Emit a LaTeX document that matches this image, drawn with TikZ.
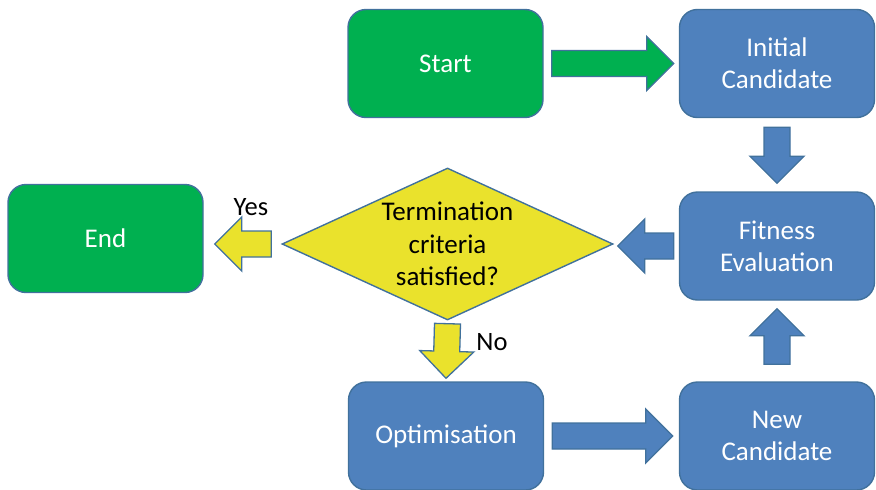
\documentclass[tikz,border=0pt]{standalone}
\usepackage{fontspec}
\setmainfont{Carlito}
\usetikzlibrary{calc,shapes.geometric}
\definecolor{bfill}{RGB}{79,129,189}
\definecolor{gfill}{RGB}{0,176,80}
\definecolor{yfill}{RGB}{234,226,44}
\definecolor{edge}{RGB}{65,113,156}
\newcommand{\fatarrow}[3]{%
  \coordinate (fa-a) at #2;
  \coordinate (fa-b) at #3;
  \coordinate (fa-h) at ($(fa-b)!27pt!(fa-a)$);
  \draw[#1] ($(fa-a)!13pt!90:(fa-b)$) -- ($(fa-h)!13pt!90:(fa-b)$) -- ($(fa-h)!27pt!90:(fa-b)$) -- (fa-b)
    -- ($(fa-h)!27pt!-90:(fa-b)$) -- ($(fa-h)!13pt!-90:(fa-b)$) -- ($(fa-a)!13pt!-90:(fa-b)$) -- cycle;}
\tikzset{
  box/.style={draw=edge, line width=1.4pt, rounded corners=18pt, minimum width=195pt, minimum height=108pt,
    inner sep=0pt, align=center, text=white, font=\fontsize{27}{32}\selectfont},
  bluebox/.style={box, fill=bfill},
  greenbox/.style={box, fill=gfill},
  decision/.style={diamond, draw=edge, line width=1.4pt, fill=yfill, aspect=2.18, inner sep=0pt,
    minimum width=331pt, minimum height=152pt, align=center, font=\fontsize{27}{32.5}\selectfont},
  lbl/.style={font=\fontsize{26.5}{30}\selectfont, inner sep=0pt},
  garrow/.style={draw=edge, line width=1.3pt, fill=gfill},
  barrow/.style={draw=edge, line width=1.3pt, fill=bfill},
  yarrow/.style={draw=edge, line width=1.3pt, fill=yfill},
}
\begin{document}
\begin{tikzpicture}[x=1pt, y=-1pt]
\useasboundingbox (0,0) rectangle (876,490);
\node[greenbox] (start) at (445.5,63.5) {Start};
\node[bluebox] (init) at (777,63.5) {Initial\\Candidate};
\node[bluebox] (fit) at (777,246) {Fitness\\Evaluation};
\node[bluebox] (new) at (777,436) {New\\Candidate};
\node[bluebox] (opt) at (446,436) {Optimisation};
\node[greenbox] (end) at (105.5,238.5) {End};
\node[decision] (dec) at (447.5,244) {Termination\\criteria\\satisfied?};
\node[lbl] (yes) at (251,207) {Yes};
\node[lbl] (no) at (492,342) {No};
\fatarrow{garrow}{($(start.east)+(8,0)$)}{($(init.west)+(-5,0)$)}
\fatarrow{barrow}{($(init.south)+(0,9)$)}{($(fit.north)+(0,-8)$)}
\fatarrow{barrow}{($(fit.west)+(-5,0)$)}{($(dec.east |- fit.west)+(4,0)$)}
\fatarrow{barrow}{($(new.north)+(0,-17)$)}{($(fit.south)+(0,8)$)}
\fatarrow{barrow}{($(opt.east)+(8,0)$)}{($(new.west)+(-6,0)$)}
\fatarrow{yarrow}{($(dec.west)+(-10,0)$)}{($(end.east |- dec.west)+(11,0)$)}
\fatarrow{yarrow}{($(dec.south)+(0,3)$)}{($(opt.north)+(0,-3)$)}
\end{tikzpicture}
\end{document}
